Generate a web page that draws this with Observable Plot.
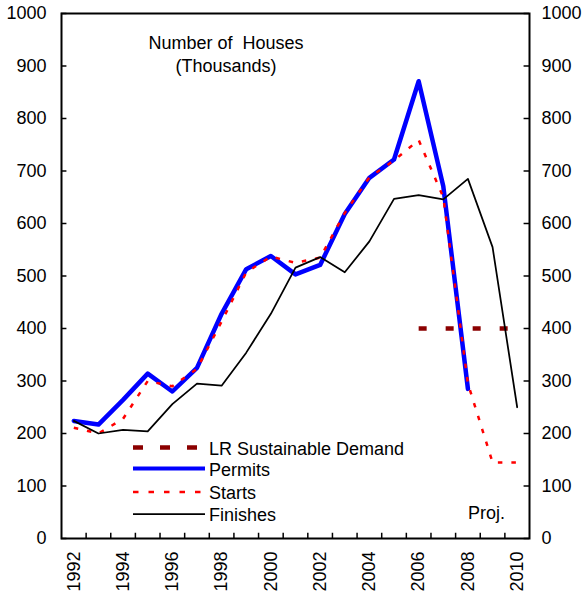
<!DOCTYPE html>
<html><head><meta charset="utf-8">
<script src="https://cdn.jsdelivr.net/npm/d3@7"></script>
<script src="https://cdn.jsdelivr.net/npm/@observablehq/plot@0.6"></script>
<style>body{margin:0;background:#fff} svg{display:block}</style>
</head><body><div id="chart"></div>
<script>
const years = [1992,1993,1994,1995,1996,1997,1998,1999,2000,2001,2002,2003,2004,2005,2006,2007,2008,2009,2010];
const permits = [224,217,264,314,280,325,428,513,538,503,521,618,687,722,871,671,285];
const starts = [211,200,228,300,290,323,413,507,537,525,535,620,688,720,759,650,295,145,145];
const finishes = [224,200,207,204,256,295,291,354,428,516,536,507,566,647,654,646,685,555,250];
const lrYears = [2006,2010];
const lrValues = [400,400];
const yTicks = [0,100,200,300,400,500,600,700,800,900,1000];
const xLabels = [1992,1994,1996,1998,2000,2002,2004,2006,2008,2010];
const seriesNames = ["LR Sustainable Demand","Permits","Starts","Finishes"];
const titleLines = ["Number of  Houses","(Thousands)"];
const noteText = "Proj.";

const rows = (vals, xs = years) => vals.map((v, i) => ({year: xs[i], value: v}));
const boundaries = years.slice(0, -1).map(y => y + 0.5);
const font = "'Liberation Sans', Arial, sans-serif";

const styles = {
  "LR Sustainable Demand": {stroke: "#8B0000", width: 4.5, dash: "8,19", legendDash: "10,17"},
  "Permits": {stroke: "#0000FF", width: 4.5, dash: null, legendDash: null},
  "Starts": {stroke: "#FF0000", width: 2.5, dash: "4.5,9", legendDash: "5.5,10"},
  "Finishes": {stroke: "#000000", width: 1.75, dash: null, legendDash: null}
};

const plot = Plot.plot({
  width: 585, height: 597,
  marginLeft: 61, marginRight: 56, marginTop: 13, marginBottom: 59,
  style: {fontFamily: font, fontSize: "18px", color: "#000", background: "#fff"},
  x: {type: "linear", domain: [1991.5, 2010.5], axis: null},
  y: {domain: [0, 1000]},
  marks: [
    Plot.axisY({anchor: "left", ticks: yTicks, tickSize: 0, tickPadding: 15, fontSize: 18, label: null, tickFormat: d => String(d)}),
    Plot.axisY({anchor: "right", ticks: yTicks, tickSize: 0, tickPadding: 12, fontSize: 18, label: null, tickFormat: d => String(d)}),
    Plot.text(xLabels, {x: d => d, y: 0, text: d => String(d), rotate: -90, textAnchor: "end", lineAnchor: "middle", dy: 13, fontSize: 18, fill: "#000"}),
    Plot.ruleY(yTicks, {y: d => d, x1: 1991.5, x2: 1991.72, stroke: "#000", strokeWidth: 1.5}),
    Plot.ruleY(yTicks, {y: d => d, x1: 2010.28, x2: 2010.5, stroke: "#000", strokeWidth: 1.5}),
    Plot.ruleX(boundaries, {x: d => d, y1: 0, y2: 10, stroke: "#000", strokeWidth: 1.5}),
    Plot.line(rows(lrValues, lrYears), {x: "year", y: "value", stroke: styles["LR Sustainable Demand"].stroke, strokeWidth: 4.5, strokeDasharray: styles["LR Sustainable Demand"].dash, strokeLinecap: "butt"}),
    Plot.line(rows(permits), {x: "year", y: "value", stroke: styles["Permits"].stroke, strokeWidth: 4.5, strokeLinejoin: "round"}),
    Plot.line(rows(starts), {x: "year", y: "value", stroke: styles["Starts"].stroke, strokeWidth: 2.5, strokeDasharray: styles["Starts"].dash, strokeLinecap: "butt"}),
    Plot.line(rows(finishes), {x: "year", y: "value", stroke: styles["Finishes"].stroke, strokeWidth: 1.75}),
    Plot.frame({stroke: "#000", strokeWidth: 2})
  ]
});

document.getElementById("chart").appendChild(plot);
const svg = d3.select(plot);

// Title
svg.append("g").selectAll("text").data(titleLines).join("text")
  .attr("x", 226).attr("y", (d, i) => 49 + i * 23)
  .attr("text-anchor", "middle")
  .style("white-space", "pre")
  .attr("font-family", font).attr("font-size", 18).attr("fill", "#000")
  .text(d => d);

// Legend
const lg = svg.append("g").attr("text-anchor", "start");
const lineYs = [447.5, 468.5, 492, 514];
seriesNames.forEach((name, i) => {
  const s = styles[name];
  lg.append("line").attr("x1", 133).attr("x2", 205).attr("y1", lineYs[i]).attr("y2", lineYs[i])
    .attr("stroke", s.stroke).attr("stroke-width", name === "Permits" ? 4 : s.width)
    .attr("stroke-dasharray", s.legendDash).attr("stroke-linecap", "butt");
  lg.append("text").attr("x", 209).attr("y", lineYs[i] + 7)
    .attr("text-anchor", "start")
    .attr("font-family", font).attr("font-size", 18).attr("fill", "#000")
    .text(name);
});

// Projection note
svg.append("text").attr("x", 468).attr("y", 519)
  .attr("text-anchor", "start")
  .attr("font-family", font).attr("font-size", 18).attr("fill", "#000")
  .text(noteText);
</script></body></html>
